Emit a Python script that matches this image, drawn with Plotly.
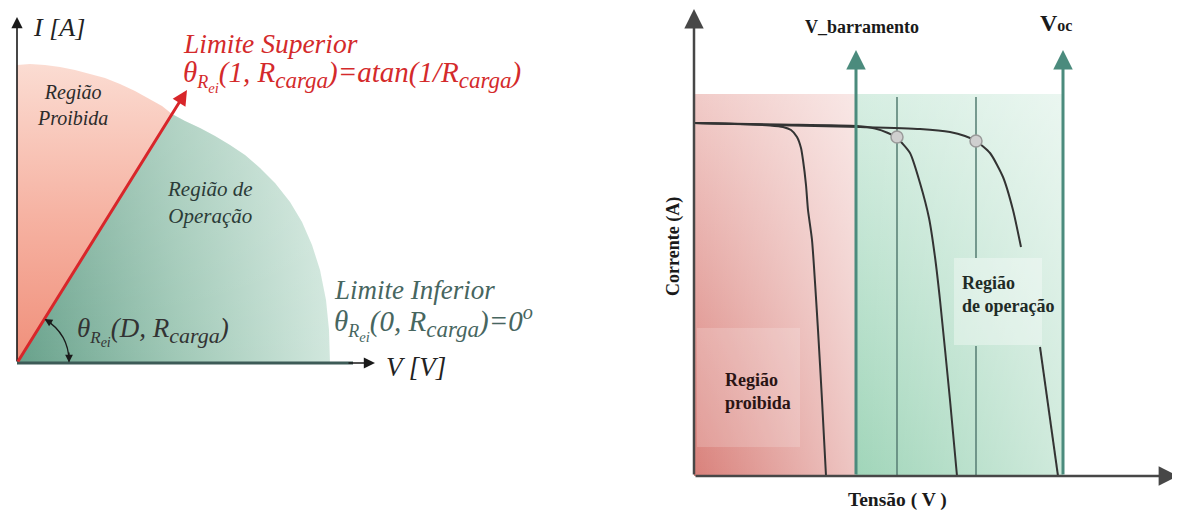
import math
import plotly.graph_objects as go

# ---------------- LEFT DIAGRAM DATA (V, I in arbitrary units) ----------------
pink_edge_V = [0, 1.3, 2.8, 4.3, 5.8, 7.3, 8.8, 10.3, 11.8, 13.3, 14.5, 15.5]
pink_edge_I = [29.8, 29.9, 29.8, 29.6, 29.3, 28.9, 28.5, 27.9, 27.2, 26.4, 25.7, 24.9]
teal_edge_V = [15.5, 16.8, 18.3, 19.8, 21.3, 22.8, 24.3, 25.8, 27.3, 28.5, 29.5, 30.3, 30.9, 31.2, 31.3]
teal_edge_I = [24.9, 24.2, 23.5, 22.7, 21.8, 20.8, 19.5, 18.0, 16.1, 14.1, 11.8, 9.3, 6.3, 3.3, 0]
upper_limit_tip = [17.0, 27.3]   # red "Limite Superior" arrow tip
left_axis_ends = [35.8, 34.6]    # V-axis end, I-axis end
arc_radius = 5.2
arc_angle_deg = 58

# ---------------- RIGHT DIAGRAM DATA ----------------
curve1_V = [0, 4.6, 7.6, 8.9, 9.7, 10.3, 10.7, 10.9, 11.2, 11.4, 11.8, 12.4, 12.8, 13.2]
curve1_I = [35.3, 35.2, 35.05, 34.9, 34.6, 33.9, 32.8, 31.6, 29.1, 26.6, 23.6, 14.6, 7.6, 0]
curve2_V = [0, 8.6, 16.3, 18.1, 19.4, 20.3, 21.6, 22.6, 23.5, 24.1, 24.6, 25.6, 26.3]
curve2_I = [35.3, 35.15, 35.0, 34.75, 34.3, 33.8, 32.3, 29.3, 25.8, 21.9, 17.6, 7.6, 0]
curve3_V = [0, 7.6, 16.6, 22.6, 25.6, 27.1, 28.2, 29.6, 30.9, 31.9, 32.7, None, 34.6, 36.4]
curve3_I = [35.3, 35.1, 34.9, 34.7, 34.4, 34.0, 33.5, 32.3, 29.9, 26.6, 22.9, None, 12.9, 0]
op_points_V = [20.3, 28.2]
op_points_I = [33.9, 33.5]
v_barramento = 16.2
v_oc = 36.9
region_top = 38.2
guide_V = [20.3, 20.3, None, 28.2, 28.2, None, 28.2, 28.2]
guide_I = [0, 37.9, None, 0, 13.0, None, 21.8, 37.9]
arrow_top = 42.6
right_axis_ends = [48.4, 46.7]
label_box_ops = [26.0, 34.8, 13.1, 21.8]
label_box_forb = [0.3, 10.6, 2.9, 14.8]

SERIF = "'Liberation Serif', 'Times New Roman', Times, 'DejaVu Serif', serif"

fig = go.Figure()

def rect(x0, x1, y0, y1):
    return [x0, x1, x1, x0, x0], [y0, y0, y1, y1, y0]

def fill(x, y, ax, ay, grad=None, color=None):
    kw = dict(x=x, y=y, fill='toself', mode='lines', line=dict(width=0),
              hoverinfo='skip', xaxis=ax, yaxis=ay)
    if grad:
        kw['fillgradient'] = grad
    else:
        kw['fillcolor'] = color
    fig.add_trace(go.Scatter(**kw))

# ---- left: pink forbidden region
px = [0, teal_edge_V[0]] + pink_edge_V[::-1] + [0]
py = [0, teal_edge_I[0]] + pink_edge_I[::-1] + [0]
fill(px, py, 'x', 'y', dict(type='vertical', colorscale=[[0, '#f08f7a'], [0.5, '#f6b3a3'], [1, '#fbdcd2']]))
# ---- left: teal operation region
tx = [0] + teal_edge_V + [0]
ty = [0] + teal_edge_I + [0]
fill(tx, ty, 'x', 'y', dict(type='horizontal', colorscale=[[0, '#68a18b'], [0.5, '#9fc8b6'], [1, '#d1e7dd']]))
fill(tx, ty, 'x', 'y', dict(type='vertical', colorscale=[[0, 'rgba(255,255,255,0)'], [1, 'rgba(255,255,255,0.2)']]))
# ---- left: V axis line
fig.add_trace(go.Scatter(x=[0, 33.6], y=[0, 0], mode='lines', line=dict(color='#3d5b57', width=3),
                         hoverinfo='skip', xaxis='x', yaxis='y'))

# ---- right: regions
rx, ry = rect(0, v_barramento, 0, region_top)
fill(rx, ry, 'x2', 'y2', dict(type='vertical', colorscale=[[0, '#d9817b'], [1, '#f1cbc8']]))
fill(rx, ry, 'x2', 'y2', dict(type='horizontal', colorscale=[[0, 'rgba(255,255,255,0)'], [1, 'rgba(255,255,255,0.55)']]))
gx, gy = rect(v_barramento, v_oc, 0, region_top)
fill(gx, gy, 'x2', 'y2', dict(type='vertical', colorscale=[[0, '#a0d5b9'], [1, '#d6eee2']]))
fill(gx, gy, 'x2', 'y2', dict(type='horizontal', colorscale=[[0, 'rgba(255,255,255,0)'], [1, 'rgba(255,255,255,0.5)']]))
bx, by = rect(*label_box_forb)
fill(bx, by, 'x2', 'y2', color='rgba(255,255,255,0.18)')
bx, by = rect(*label_box_ops)
fill(bx, by, 'x2', 'y2', color='rgba(255,255,255,0.35)')
# guide lines
fig.add_trace(go.Scatter(x=guide_V, y=guide_I, mode='lines', line=dict(color='#5c8378', width=1.6),
                         hoverinfo='skip', xaxis='x2', yaxis='y2'))
# I-V curves
for cv, ci in [(curve1_V, curve1_I), (curve2_V, curve2_I), (curve3_V, curve3_I)]:
    fig.add_trace(go.Scatter(x=cv, y=ci, mode='lines',
                             line=dict(color='#333333', width=2, shape='spline', smoothing=0.6),
                             hoverinfo='skip', xaxis='x2', yaxis='y2', connectgaps=False))
fig.add_trace(go.Scatter(x=op_points_V, y=op_points_I, mode='markers',
                         marker=dict(size=12, color='#cfcfcf', line=dict(color='#9a9a9a', width=1.5)),
                         hoverinfo='skip', xaxis='x2', yaxis='y2'))

# ---- angle arc (left)
a = math.radians(arc_angle_deg)
ex, ey = arc_radius * math.cos(a), arc_radius * math.sin(a)
cx, cy = arc_radius, arc_radius * math.tan(a / 2)
fig.add_shape(type='path', xref='x', yref='y',
              path=f'M {arc_radius},0.15 Q {cx},{cy} {ex},{ey}',
              line=dict(color='#1a1a1a', width=1.3))

ann = []
def arrow(x, y, ax, ay, color, width, size, xr='x', yr='y', head=2):
    ann.append(dict(x=x, y=y, ax=ax, ay=ay, xref=xr, yref=yr, axref=xr, ayref=yr, showarrow=True,
                    arrowhead=head, arrowsize=size, arrowwidth=width, arrowcolor=color, text='', standoff=0))

# left arrows
arrow(0, left_axis_ends[1], 0, 0, '#1a1a1a', 1.6, 1.4)
arrow(left_axis_ends[0], 0, 33.0, 0, '#1a1a1a', 1.6, 1.4)
arrow(upper_limit_tip[0], upper_limit_tip[1], 0, 0, '#d8262a', 3, 1.0)
arrow(arc_radius, 0.05, arc_radius, 1.2, '#1a1a1a', 1.2, 1.3)
arrow(ex, ey, ex + 0.85, ey - 0.53, '#1a1a1a', 1.2, 1.3)
# right arrows
arrow(0, right_axis_ends[1], 0, 0, '#474747', 2.5, 1.55, 'x2', 'y2')
arrow(right_axis_ends[0], 0, 0, 0, '#474747', 2.5, 1.55, 'x2', 'y2')
arrow(v_barramento, arrow_top, v_barramento, 0, '#4b8b7d', 3, 1.3, 'x2', 'y2')
arrow(v_oc, arrow_top, v_oc, 0, '#4b8b7d', 3, 1.3, 'x2', 'y2')

def text(x, y, t, size, color, xr='x', yr='y', xa='left', italic=True, bold=False, angle=0, align='left'):
    ann.append(dict(x=x, y=y, xref=xr, yref=yr, text=t, showarrow=False, xanchor=xa, yanchor='middle',
                    textangle=angle, align=align,
                    font=dict(family=SERIF, size=size, color=color,
                              style='italic' if italic else 'normal',
                              weight=700 if bold else 400)))

def sub(t, px_size):
    return f'<sub><span style="font-size:{px_size}px">{t}</span></sub>'

def theta(px_size):
    return 'θ' + sub('R', px_size) + sub('<sub>ei</sub>', px_size + 3)

text(1.4, 33.6, 'I [A]', 26, '#222222')
text(16.4, 32.0, 'Limite Superior', 27.5, '#d42a2b')
text(16.4, 28.7, theta(18) + '(1, R' + sub('carga', 23) + ')=atan(1/R' + sub('carga', 23) + ')', 29, '#d42a2b')
text(5.5, 25.8, 'Região<br>Proibida', 20, '#2b2b2b', xa='center', align='center')
text(19.3, 16.1, 'Região de<br>Operação', 21, '#2b3b37', xa='center', align='center')
text(31.5, 7.3, 'Limite Inferior', 27, '#47665f')
text(31.5, 4.0, theta(18) + '(0, R' + sub('carga', 23) + ')=0<sup>o</sup>', 29, '#47665f')
text(5.8, 3.2, theta(17) + '(D, R' + sub('carga', 22) + ')', 27, '#333333')
text(36.7, -0.4, 'V [V]', 27, '#222222')

text(16.8, 44.9, 'V_barramento', 18, '#1a1a1a', 'x2', 'y2', xa='center', italic=False, bold=True)
text(36.2, 45.3, 'V<span style="font-size:16px">oc</span>', 24, '#1a1a1a', 'x2', 'y2', xa='center', italic=False, bold=True)
text(-2.1, 22.9, 'Corrente (A)', 18, '#1a1a1a', 'x2', 'y2', xa='center', italic=False, bold=True, angle=-90)
text(20.3, -2.4, 'Tensão ( V )', 19.5, '#1a1a1a', 'x2', 'y2', xa='center', italic=False, bold=True)
text(2.9, 8.5, 'Região<br>proibida', 18, '#2a1414', 'x2', 'y2', italic=False, bold=True)
text(26.6, 18.2, 'Região<br>de operação', 18, '#1f2b26', 'x2', 'y2', italic=False, bold=True)

# The page body adds an 8 px margin; axis ranges are chosen so the drawing lands where the reference has it.
ax_common = dict(visible=False, showgrid=False, zeroline=False)
fig.update_layout(
    width=1180, height=510, margin=dict(l=0, r=0, t=0, b=0),
    font=dict(family=SERIF),
    paper_bgcolor='white', plot_bgcolor='white', showlegend=False,
    xaxis=dict(domain=[0, 0.5], range=[-0.9, 58.1], **ax_common),
    yaxis=dict(domain=[0, 1], range=[-15.5, 35.5], **ax_common),
    xaxis2=dict(domain=[0.5, 1], range=[-9.6, 49.4], anchor='y2', **ax_common),
    yaxis2=dict(domain=[0, 1], range=[-4.2, 46.8], anchor='x2', **ax_common),
    annotations=ann,
)
fig.write_html('out.html')
